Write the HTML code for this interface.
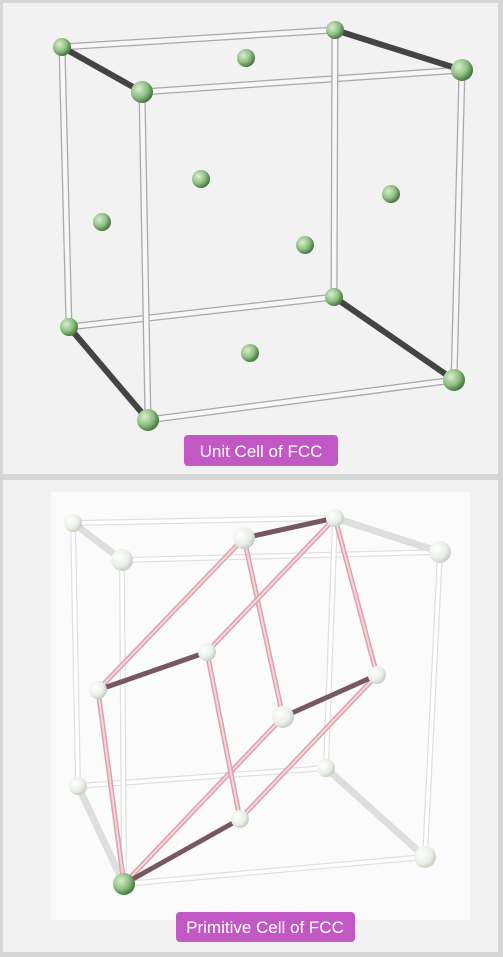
<!DOCTYPE html>
<html><head><meta charset="utf-8"><style>
body{margin:0;background:#d6d6d6;width:503px;height:957px;overflow:hidden;font-family:"Liberation Sans",sans-serif}
svg{display:block}
</style></head><body>
<svg width="503" height="957">
<defs>
<radialGradient id="g" cx="35%" cy="35%" r="65%"><stop offset="0" stop-color="#d8efcf"/><stop offset="0.6" stop-color="#8fc083"/><stop offset="1" stop-color="#4c7a45"/></radialGradient>
<radialGradient id="w" cx="35%" cy="35%" r="65%"><stop offset="0" stop-color="#ffffff"/><stop offset="0.7" stop-color="#e8efe6"/><stop offset="1" stop-color="#c9d2c7"/></radialGradient>
</defs>
<rect x="3" y="3" width="495" height="471" fill="#f2f2f2"/>
<rect x="3" y="480" width="495" height="472" fill="#f2f2f2"/>
<rect x="51" y="492" width="419" height="428" fill="#fbfbfb"/>
<g id="c1"></g>
<g id="c2"></g>
<rect x="184" y="435" width="154" height="31" rx="4" fill="#c158c4"/>
<text x="261" y="457" text-anchor="middle" font-size="17" fill="#fff">Unit Cell of FCC</text>
<rect x="176" y="912" width="179" height="30" rx="4" fill="#c158c4"/>
<text x="265" y="933" text-anchor="middle" font-size="17" fill="#fff">Primitive Cell of FCC</text>
</svg>
<script>
const NS='http://www.w3.org/2000/svg';
function ln(g,a,b,c,w){const l=document.createElementNS(NS,'line');l.setAttribute('x1',a[0]);l.setAttribute('y1',a[1]);l.setAttribute('x2',b[0]);l.setAttribute('y2',b[1]);l.setAttribute('stroke',c);l.setAttribute('stroke-width',w);l.setAttribute('stroke-linecap','round');


g.appendChild(l);}
function at(g,p,r,f){const c=document.createElementNS(NS,'circle');c.setAttribute('cx',p[0]);c.setAttribute('cy',p[1]);c.setAttribute('r',r);c.setAttribute('fill',f);


g.appendChild(c);}
// cube 1
const g1=document.getElementById('c1');
const BTL=[62,47],BTR=[335,30],FTL=[142,92],FTR=[462,70],BBL=[69,327],BBR=[334,297],FBL=[148,420],FBR=[454,380];
[[BTL,BTR],[FTL,FTR],[BBL,BBR],[FBL,FBR],[BTL,BBL],[BTR,BBR],[FTL,FBL],[FTR,FBR]].forEach(e=>{ln(g1,e[0],e[1],'#a8a8a8',7);ln(g1,e[0],e[1],'#f7f7f7',4.5);});
[[BTL,FTL],[BTR,FTR],[BBL,FBL],[BBR,FBR]].forEach(e=>ln(g1,e[0],e[1],'#444',6));
[[246,58],[201,179],[102,222],[391,194],[305,245],[250,353]].forEach(p=>at(g1,p,9,'url(#g)'));
[BTL,BTR,BBL,BBR].forEach(p=>at(g1,p,9,'url(#g)'));
[FTL,FTR,FBL,FBR].forEach(p=>at(g1,p,11,'url(#g)'));
// cube 2
const g2=document.getElementById('c2');
const b=[[73,523],[335,518],[122,560],[440,552],[78,786],[326,768],[124,884],[425,857]];
[[0,1],[2,3],[4,5],[6,7],[0,4],[1,5],[2,6],[3,7]].forEach(e=>{ln(g2,b[e[0]],b[e[1]],'#e0e0e0',6);ln(g2,b[e[0]],b[e[1]],'#fff',3.5);});
[[0,2],[1,3],[4,6],[5,7]].forEach(e=>ln(g2,b[e[0]],b[e[1]],'#dedede',7));
const O=[124,884],A=[98,690],B=[240,819],C=[283,717],AB=[207,652],AC=[244,538],BC=[377,675],ABC=[335,518];
[[O,A],[O,C],[A,AC],[B,AB],[B,BC],[C,AC],[AB,ABC],[BC,ABC]].forEach(e=>{ln(g2,e[0],e[1],'#dba2ad',5);ln(g2,e[0],e[1],'#f5d5db',2);});
[[O,B],[A,AB],[AC,ABC],[C,BC]].forEach(e=>ln(g2,e[0],e[1],'#765860',5));
[b[0],b[1],b[4],b[5]].forEach(p=>at(g2,p,9,'url(#w)'));
[b[2],b[3],b[7]].forEach(p=>at(g2,p,11,'url(#w)'));
[A,B,AB,BC].forEach(p=>at(g2,p,9,'url(#w)'));
[AC,C].forEach(p=>at(g2,p,11,'url(#w)'));
at(g2,O,11,'url(#g)');
</script>
</body></html>
